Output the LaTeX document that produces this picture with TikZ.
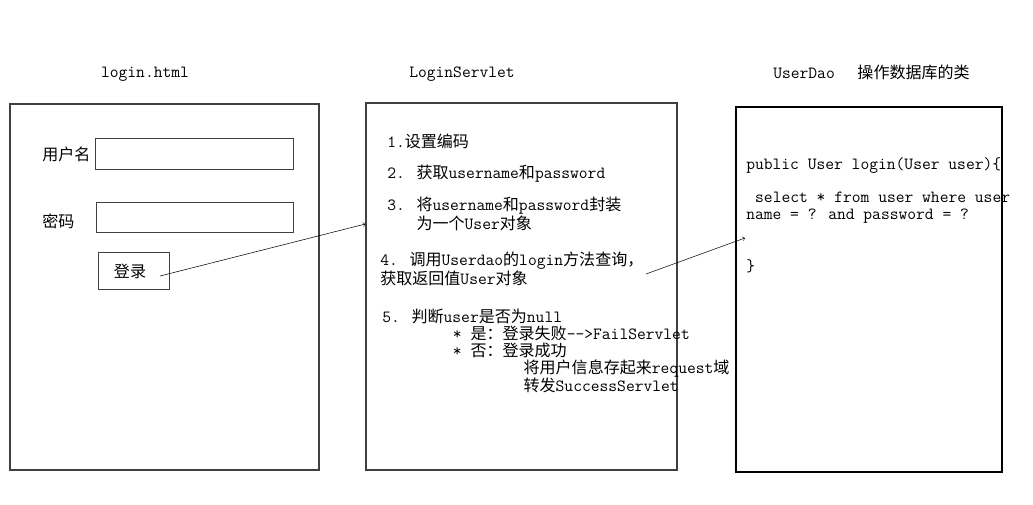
\documentclass[tikz,border=0pt]{standalone}
\usepackage{fontspec}
\newfontfamily\cjk[Scale=0.94]{Noto Sans CJK SC}
\newcommand{\zh}[1]{{\cjk #1}}
\usetikzlibrary{fit}

\begin{document}
\begin{tikzpicture}[x=0.75pt,y=-0.75pt,
panel/.style={draw=black!75,line width=0.9pt,inner sep=0pt},
field/.style={draw=black!75,line width=0.7pt,inner sep=0pt},
txt/.style={anchor=west,inner sep=0pt,align=left,font=\ttfamily\fontsize{12.8}{12.75}\selectfont},
head/.style={inner sep=0pt,font=\ttfamily\fontsize{12.8}{12.75}\selectfont},
link/.style={->,thin}]
	\def\ind{\hspace*{53pt}}
	\useasboundingbox (0,0) rectangle (1033,504);

	%titles
	\node[head] (t1) at (145,74) {login.html};
	\node[head] (t2) at (462,74) {LoginServlet};
	\node[head,anchor=west] (t3) at (773,72) {UserDao\hspace*{17pt}\zh{操作数据库的类}};

	%panels
	\node[panel,fit={(10,104) (319,470)}] (page) {};
	\node[panel,fit={(366,103) (677,470)}] (srv) {};
	\node[panel,draw=black,fit={(736,107) (1002,472)}] (dao) {};

	%form
	\node[txt] (lu) at (42,154) {\zh{用户名}};
	\node[field,fit={(95,138) (293,169)}] (fu) {};
	\node[txt] (lp) at (42,221) {\zh{密码}};
	\node[field,fit={(96,202) (293,232)}] (fp) {};
	\node[field,fit={(98,252) (169,289)}] (btn) {};
	\node[head] (lbtn) at (130,271) {\zh{登录}};

	%servlet steps
	\node[txt] (s1) at (387,141) {1.\zh{设置编码}};
	\node[txt] (s2) at (387,174) {2. \zh{获取}username\zh{和}password};
	\node[txt] (s3) at (387,214) {3. \zh{将}username\zh{和}password\zh{封装}\\
		\phantom{3. }\zh{为一个}User\zh{对象}};
	\node[txt] (s4) at (380,269) {4. \zh{调用}Userdao\zh{的}login\zh{方法查询，}\\
		\zh{获取返回值}User\zh{对象}};
	\node[txt] (s5) at (382,351) {5. \zh{判断}user\zh{是否为}null\\
		\ind * \zh{是：登录失败}-{}-{}>FailServlet\\
		\ind * \zh{否：登录成功}\\
		\ind\ind\zh{将用户信息存起来}request\zh{域}\\
		\ind\ind\zh{转发}SuccessServlet};

	%dao
	\node[txt] (c1) at (746,166) {public User login(User user)\{};
	\node[txt] (c2) at (746,208) {\hspace*{6.7pt}select * from user where user\\
		name = ? and password = ?};
	\node[txt] (c3) at (746,266) {\}};

	%submit
	\coordinate (go) at (160,276);
	\draw[link] (go) -- (srv.west |- 0,224);
	%query
	\coordinate (ask) at (646,274);
	\coordinate (recv) at (745,238);
	\draw[link] (ask) -- (recv);
\end{tikzpicture}
\end{document}
